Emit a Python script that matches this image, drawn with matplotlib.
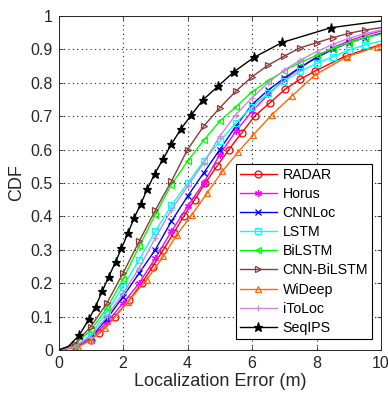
import matplotlib
matplotlib.use("Agg")
import matplotlib.pyplot as plt

plt.rcParams['font.family'] = ['Liberation Sans', 'DejaVu Sans']

# ---- data ----
grid_x = [0, 0.5, 1, 1.5, 2, 2.5, 3, 3.5, 4, 4.5, 5, 5.5, 6, 6.5, 7, 7.5, 8, 8.5, 9, 9.5, 10]

radar_x = [0, 0.5, 1.0, 1.25, 1.75, 2.2, 2.58, 2.92, 3.25, 3.57, 3.88, 4.22, 4.55, 4.91, 5.28, 5.68, 6.08, 6.55, 7.02, 7.48, 7.95, 8.9, 10]
radar_y = [0, 0.008, 0.03, 0.05, 0.1, 0.15, 0.2, 0.25, 0.3, 0.35, 0.4, 0.45, 0.5, 0.55, 0.6, 0.65, 0.7, 0.74, 0.78, 0.81, 0.835, 0.88, 0.915]

horus_y = [0, 0.008, 0.033, 0.083, 0.14, 0.2, 0.275, 0.355, 0.43, 0.5, 0.585, 0.655, 0.715, 0.765, 0.81, 0.845, 0.878, 0.905, 0.925, 0.942, 0.955]
cnnloc_y = [0, 0.01, 0.038, 0.093, 0.16, 0.23, 0.3, 0.385, 0.46, 0.53, 0.6, 0.67, 0.735, 0.778, 0.814, 0.847, 0.875, 0.9, 0.92, 0.935, 0.948]
lstm_y = [0, 0.01, 0.045, 0.113, 0.19, 0.27, 0.355, 0.433, 0.499, 0.565, 0.625, 0.68, 0.728, 0.768, 0.806, 0.835, 0.858, 0.878, 0.898, 0.913, 0.925]
bilstm_y = [0, 0.015, 0.06, 0.125, 0.212, 0.31, 0.405, 0.495, 0.565, 0.628, 0.685, 0.728, 0.773, 0.806, 0.836, 0.861, 0.882, 0.902, 0.92, 0.935, 0.945]
cnnbilstm_y = [0, 0.018, 0.07, 0.14, 0.23, 0.325, 0.418, 0.505, 0.6, 0.67, 0.725, 0.775, 0.818, 0.853, 0.88, 0.905, 0.92, 0.935, 0.948, 0.958, 0.965]
itoloc_y = [0, 0.01, 0.04, 0.1, 0.17, 0.245, 0.335, 0.42, 0.49, 0.56, 0.64, 0.705, 0.755, 0.8, 0.838, 0.868, 0.893, 0.915, 0.933, 0.947, 0.958]

wideep_x = [0, 0.6, 1.0, 1.45, 2.16, 2.73, 3.25, 3.66, 4.13, 4.6, 5.08, 5.58, 6.04, 6.61, 7.23, 7.95, 8.94, 9.87, 10]
wideep_y = [0, 0.008, 0.03, 0.065, 0.145, 0.21, 0.28, 0.344, 0.404, 0.469, 0.535, 0.594, 0.644, 0.704, 0.76, 0.823, 0.878, 0.908, 0.91]

seqips_x = [0, 0.3, 0.65, 0.94, 1.15, 1.36, 1.56, 1.77, 1.95, 2.15, 2.34, 2.55, 2.75, 2.98, 3.24, 3.5, 3.79, 4.12, 4.48, 4.95, 5.44, 6.06, 6.94, 8.45, 10]
seqips_y = [0, 0.01, 0.045, 0.092, 0.13, 0.177, 0.22, 0.264, 0.304, 0.349, 0.394, 0.437, 0.481, 0.527, 0.571, 0.616, 0.661, 0.704, 0.749, 0.79, 0.833, 0.876, 0.921, 0.965, 0.985]

labels = ['RADAR', 'Horus', 'CNNLoc', 'LSTM', 'BiLSTM', 'CNN-BiLSTM', 'WiDeep', 'iToLoc', 'SeqIPS']
x_ticks = [0, 2, 4, 6, 8, 10]
y_ticks = [0, 0.1, 0.2, 0.3, 0.4, 0.5, 0.6, 0.7, 0.8, 0.9, 1]
y_tick_labels = ['0', '0.1', '0.2', '0.3', '0.4', '0.5', '0.6', '0.7', '0.8', '0.9', '1']

series = [
    (radar_x, radar_y, '#FF0000', 'o', 'none'),
    (grid_x, horus_y, '#FF00FF', (6, 2, 0), 'none'),
    (grid_x, cnnloc_y, '#0000FF', 'x', 'none'),
    (grid_x, lstm_y, '#00FFFF', 's', 'none'),
    (grid_x, bilstm_y, '#00FF00', '<', 'none'),
    (grid_x, cnnbilstm_y, '#8B3A3A', '>', 'none'),
    (wideep_x, wideep_y, '#FF6A00', '^', 'none'),
    (grid_x, itoloc_y, '#CC88D8', '+', 'none'),
    (seqips_x, seqips_y, '#000000', '*', 'fill'),
]

fig = plt.figure(figsize=(3.88, 3.98), dpi=100)
ax = fig.add_axes([0.1508, 0.1206, 0.8312, 0.8392])

for (xs, ys, col, mk, fill), lab in zip(series, labels):
    n = len(xs)
    if fill == 'fill':
        mev = list(range(2, n - 1))
        mfc = col
        ms = 6.5
    else:
        mev = list(range(1, n - 1))
        mfc = 'none'
        ms = 5
    ax.plot(xs, ys, color=col, lw=1.0, marker=mk, markevery=mev,
            markerfacecolor=mfc, markeredgecolor=col, markersize=ms,
            markeredgewidth=0.9, label=lab)

ax.set_xlim(0, 10)
ax.set_ylim(0, 1)
ax.set_xticks(x_ticks)
ax.set_xticklabels([str(t) for t in x_ticks])
ax.set_yticks(y_ticks)
ax.set_yticklabels(y_tick_labels)
ax.grid(True, linestyle=(0, (1, 3)), color='#222222', linewidth=0.8)
ax.tick_params(direction='in', top=True, right=True, length=3, width=0.6,
               labelsize=11.5, colors='#262626', pad=4)
for s in ax.spines.values():
    s.set_color('#262626')
    s.set_linewidth(0.7)
ax.set_xlabel('Localization Error (m)', fontsize=13, color='#262626', labelpad=2)
ax.set_ylabel('CDF', fontsize=13, color='#262626', labelpad=4)

leg = ax.legend(loc='lower right', bbox_to_anchor=(0.973, 0.033), borderaxespad=0,
                fontsize=10.2, handlelength=2.6, labelspacing=0.36, handletextpad=0.4,
                borderpad=0.3, fancybox=False, framealpha=1, edgecolor='#000000')
leg.get_frame().set_linewidth(0.8)

fig.savefig('out.png', dpi=100)
